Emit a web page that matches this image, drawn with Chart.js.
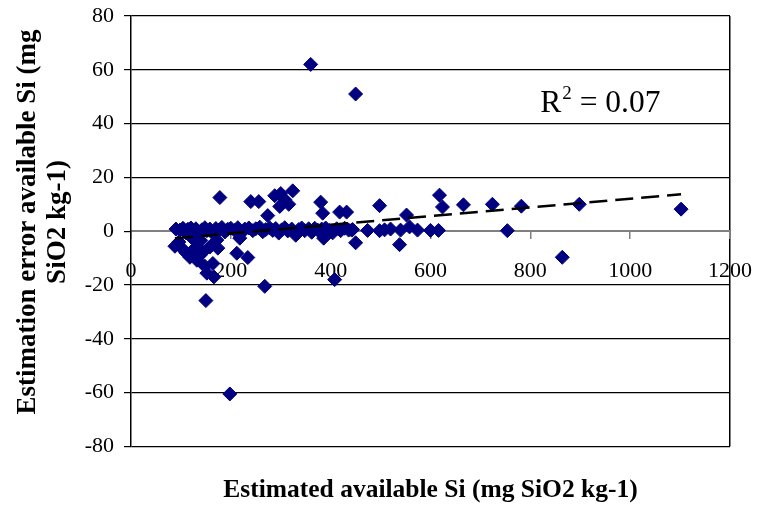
<!DOCTYPE html>
<html>
<head>
<meta charset="utf-8">
<script src="https://cdn.jsdelivr.net/npm/chart.js@4/dist/chart.umd.min.js"></script>
<style>
html,body{margin:0;padding:0;background:#fff;}
#wrap{width:757px;height:506px;}
</style>
</head>
<body>
<div id="wrap"><canvas id="c" width="757" height="506"></canvas></div>
<script>
// Estimated available Si (mg SiO2 kg-1)
const estimatedSi = [
  360, 450, 198, 268, 150, 408, 864, 1102, 898, 782, 724, 666, 754, 618, 624, 616,
  552, 538, 450, 498, 418, 432, 380, 384, 386, 288, 300, 324, 298, 316, 308, 240,
  256, 274, 178, 234, 212, 218, 88, 104, 118, 132, 128, 144, 152, 166, 164, 158,
  174, 172, 96, 110, 138, 148, 122, 140,
  90, 98, 104, 110, 114, 120, 126, 130, 136, 142, 148, 152, 158, 164, 170, 176,
  182, 188, 194, 200, 208, 214, 222, 228, 236, 244, 250, 258, 264, 270, 278, 284,
  290, 296, 302, 308, 314, 322, 330, 336, 342, 348, 356, 362, 368, 374, 382, 390,
  398, 404, 412, 420, 428, 436, 444, 474, 498, 508, 520, 540, 558, 574, 600, 382, 442
];
// Estimation error available Si (mg SiO2 kg-1)
const estimationError = [
  62, 51, -60.5, -20.5, -25.8, -18, -9.7, 8.2, 10, 9.3, 10, 9.8, 0.2, 13.4, 9, 0.3,
  6, -5, -4.3, 9.5, 7.1, 7.1, 10.8, 6.7, -2.6, 13.2, 14, 15, 9.2, 10, 11.8, 11,
  11, 5.8, 12.5, -9.8, -8.2, -2.6, -5.6, -6.7, -9.7, -10.8, -6.3, -7.8, -15.6, -17, -12, -5.9,
  -6.3, -3.3, -4, -8, -9, -13, -2.5, -3.5,
  0.8, 0.4, 1.1, -0.6, 0.7, 1.2, 0.1, 0.9, -1.2, 0.5, 1.3, 0.2, 0.8, -0.8, 1.0, 0.4,
  1.4, -0.3, 0.7, 1.1, 0.3, 1.3, -0.5, 0.8, 1.2, 0.2, 0.9, 1.5, -0.2, 0.6, 1.2, 0.3,
  1.0, -0.7, 0.5, 1.3, 0.1, 0.8, -1.5, 0.6, 1.2, 0.2, 0.9, -0.4, 1.1, 0.4, 0.8, 1.2,
  0.3, -0.6, 0.9, 0.2, 1.1, 0.4, 0.6, 0.3, 0.2, 0.5, 0.8, 0.4, 1.6, 0.4, 0.3, -0.7, 0.4
];
// Linear trendline end points
const trendX = [88, 1102];
const trendY = [-2.6, 13.7];
const rSquaredText = "0.07";
const xTicks = [0, 200, 400, 600, 800, 1000, 1200];
const yTicks = [-80, -60, -40, -20, 0, 20, 40, 60, 80];
const xTitle = "Estimated available Si (mg SiO2 kg-1)";
const yTitleLines = ["Estimation error available Si (mg", "SiO2 kg-1)"];

const FONT = "'Liberation Serif', 'Times New Roman', serif";

const points = estimatedSi.map((x, i) => ({x: x, y: estimationError[i]}));
const trend = trendX.map((x, i) => ({x: x, y: trendY[i]}));

function zeroPadding(s) {
  s.paddingTop = 0; s.paddingBottom = 0; s.paddingLeft = 0; s.paddingRight = 0;
}

const annotPlugin = {
  id: 'annot',
  afterDraw(chart) {
    const ctx = chart.ctx;
    const xs = chart.scales.x, ys = chart.scales.y;
    ctx.save();
    // R^2 text
    let px = xs.getPixelForValue(820);
    const py = ys.getPixelForValue(44.3);
    ctx.fillStyle = '#000';
    ctx.textBaseline = 'alphabetic';
    ctx.textAlign = 'left';
    ctx.font = "31.5px " + FONT;
    ctx.fillText('R', px, py);
    px += ctx.measureText('R').width;
    ctx.font = "19px " + FONT;
    ctx.fillText('2', px + 1, py - 13);
    px += ctx.measureText('2').width + 1;
    ctx.font = "31.5px " + FONT;
    ctx.fillText(' = ' + rSquaredText, px, py);
    // Y axis title (two lines, rotated)
    ctx.font = "bold 27px " + FONT;
    ctx.textAlign = 'center';
    ctx.textBaseline = 'middle';
    const cy = 222;
    const xPos = [28, 58];
    yTitleLines.forEach((t, i) => {
      ctx.save();
      ctx.translate(xPos[i], cy);
      ctx.rotate(-Math.PI / 2);
      ctx.fillText(t, 0, 0);
      ctx.restore();
    });
    ctx.restore();
  }
};

new Chart(document.getElementById('c'), {
  type: 'scatter',
  data: {
    datasets: [
      {
        type: 'line',
        label: 'trend',
        data: trend,
        borderColor: '#000',
        borderWidth: 2.5,
        borderDash: [18, 8],
        pointRadius: 0,
        fill: false,
        tension: 0,
        order: 0
      },
      {
        label: 'points',
        data: points,
        pointStyle: 'rectRot',
        pointRadius: 7,
        pointHoverRadius: 7,
        backgroundColor: '#000080',
        borderColor: '#000080',
        borderWidth: 1,
        order: 1
      }
    ]
  },
  options: {
    responsive: false,
    animation: false,
    events: [],
    layout: {autoPadding: false, padding: {top: 16, right: 27, left: 0, bottom: 0}},
    plugins: {
      legend: {display: false},
      tooltip: {enabled: false},
      title: {
        display: true,
        position: 'bottom',
        fullSize: false,
        text: xTitle,
        color: '#000',
        font: {family: FONT, size: 25.5, weight: 'bold', lineHeight: 1.2},
        padding: {top: 29, bottom: 0}
      }
    },
    scales: {
      x: {
        type: 'linear',
        position: {y: 0},
        min: 0, max: 1200,
        afterBuildTicks(s) { s.ticks = xTicks.map(v => ({value: v})); },
        afterFit(s) { zeroPadding(s); },
        ticks: {
          color: '#000',
          font: {family: FONT, size: 22},
          padding: 20,
          maxRotation: 0,
          callback: v => String(v)
        },
        border: {color: '#808080', width: 2},
        grid: {
          color: c => (c.tick && c.tick.value === 1200) ? '#000' : 'rgba(0,0,0,0)',
          lineWidth: 1.5,
          tickColor: '#808080',
          tickLength: 7,
          tickWidth: 1.5
        }
      },
      y: {
        type: 'linear',
        position: 'left',
        min: -80, max: 80,
        afterBuildTicks(s) { s.ticks = yTicks.map(v => ({value: v})); },
        afterFit(s) { s.width = 131; zeroPadding(s); },
        ticks: {
          color: '#000',
          font: {family: FONT, size: 22},
          padding: 10,
          callback: v => String(v)
        },
        border: {color: '#000', width: 1.5},
        grid: {
          color: c => (c.tick && c.tick.value === 0) ? 'rgba(0,0,0,0)' : '#000',
          lineWidth: 1.2,
          tickColor: '#000',
          tickLength: 7,
          tickWidth: 1.2
        }
      }
    }
  },
  plugins: [annotPlugin]
});
</script>
</body>
</html>
